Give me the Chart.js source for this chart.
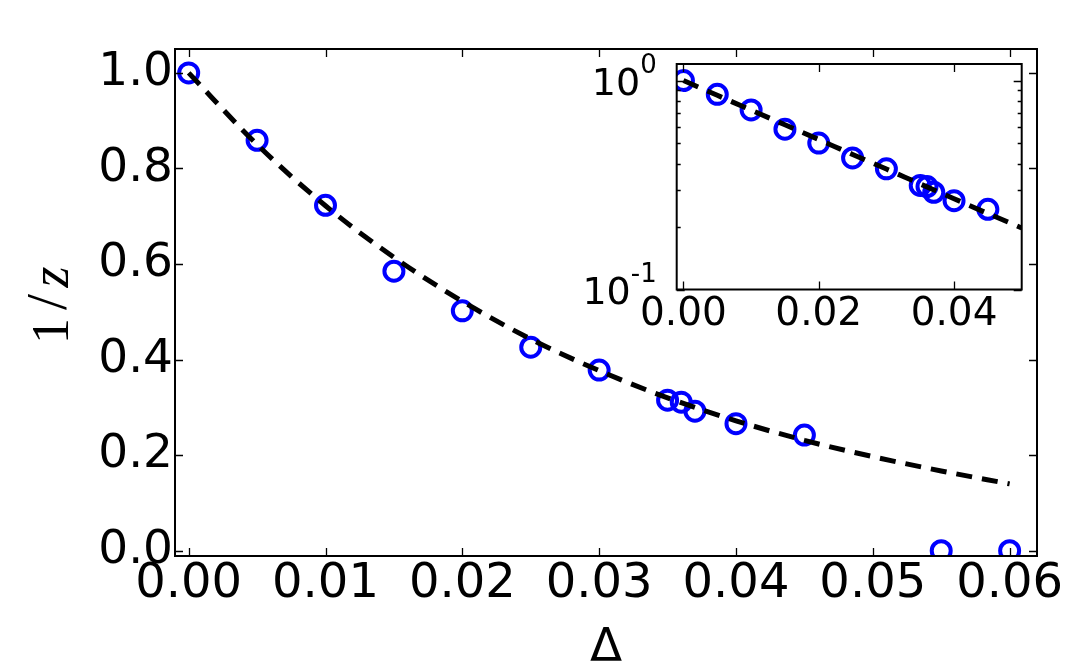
<!DOCTYPE html>
<html>
<head>
<meta charset="utf-8">
<script src="https://cdn.jsdelivr.net/npm/chart.js@4.4.1/dist/chart.umd.min.js"></script>
<style>
  body { margin: 0; background: #fff; }
  #wrap { position: relative; width: 1082px; height: 670px; }
  #main { position: absolute; left: 0; top: 0; }
  #inset { position: absolute; left: 560px; top: 20px; }
</style>
</head>
<body>
<div id="wrap">
  <canvas id="main" width="1082" height="670"></canvas>
  <canvas id="inset" width="510" height="340"></canvas>
</div>
<script>
// measured points
const deltaValues = [0, 0.005, 0.01, 0.015, 0.02, 0.025, 0.03, 0.035, 0.036, 0.037, 0.04, 0.045, 0.055, 0.06];
const invZValues = [1.0, 0.859, 0.723, 0.585, 0.502, 0.426, 0.378, 0.315, 0.311, 0.292, 0.266, 0.242, 0.0, 0.0];

// dashed fit curve
const fitDelta = [0, 0.005, 0.01, 0.015, 0.02, 0.025, 0.03, 0.035, 0.04, 0.045, 0.05, 0.055, 0.06];
const fitValues = [1.0, 0.850, 0.722, 0.614, 0.522, 0.443, 0.377, 0.320, 0.272, 0.231, 0.197, 0.167, 0.140];

// tick labels
const mainXTicks = [0, 0.01, 0.02, 0.03, 0.04, 0.05, 0.06];
const mainYTicks = [0, 0.2, 0.4, 0.6, 0.8, 1.0];
const insetXTicks = [0, 0.02, 0.04];
const insetYTicks = [0.1, 0.2, 0.3, 0.4, 0.5, 0.6, 0.7, 0.8, 0.9, 1.0];

const FONT = "'DejaVu Sans', sans-serif";
const SERIF = "'Liberation Serif', serif";
const BLUE = '#0000ff';

const toPoints = (xs, ys) => xs.map((x, i) => ({ x: x, y: ys[i] }));

function fixedTicks(values) {
    return scale => { scale.ticks = values.map(v => ({ value: v })); };
}

// matplotlib-like frame with inward ticks on all four sides
const frameTicks = {
    id: 'frameTicks',
    beforeDatasetsDraw(chart, args, opts) {
        if (opts.fill) {
            const a = chart.chartArea;
            chart.ctx.save();
            chart.ctx.fillStyle = '#fff';
            chart.ctx.fillRect(a.left, a.top, a.right - a.left, a.bottom - a.top);
            chart.ctx.restore();
        }
    },
    afterDatasetsDraw(chart, args, opts) {
        const { ctx, chartArea: a } = chart;
        const xs = chart.scales.x, ys = chart.scales.y;
        ctx.save();
        ctx.strokeStyle = '#000';
        ctx.lineWidth = 1.3;
        ctx.beginPath();
        xs.ticks.forEach(t => {
            const px = Math.round(xs.getPixelForValue(t.value)) + 0.5;
            ctx.moveTo(px, a.bottom); ctx.lineTo(px, a.bottom - 8);
            ctx.moveTo(px, a.top); ctx.lineTo(px, a.top + 8);
        });
        ys.ticks.forEach(t => {
            const py = Math.round(ys.getPixelForValue(t.value)) + 0.5;
            const major = !opts.log || Math.abs(Math.log10(t.value) - Math.round(Math.log10(t.value))) < 1e-9;
            const len = major ? 8 : 4;
            ctx.moveTo(a.left, py); ctx.lineTo(a.left + len, py);
            ctx.moveTo(a.right, py); ctx.lineTo(a.right - len, py);
        });
        ctx.stroke();
        ctx.lineWidth = 2;
        ctx.strokeRect(a.left, a.top, a.right - a.left, a.bottom - a.top);
        ctx.restore();
    }
};

// axis titles of the main plot: 1/z and Delta
const axisTitles = {
    id: 'axisTitles',
    afterDraw(chart) {
        const ctx = chart.ctx;
        ctx.save();
        ctx.fillStyle = '#000';
        ctx.textBaseline = 'alphabetic';
        ctx.font = "47px " + FONT;
        ctx.textAlign = 'center';
        ctx.fillText('\u0394', 606, 661);

        // rotated label, pieces spaced like mathtext
        ctx.translate(68, 304);
        ctx.rotate(-Math.PI / 2);
        ctx.textAlign = 'center';
        ctx.font = "52px " + SERIF;
        ctx.fillText('1', -27, 0);
        ctx.font = "58px " + SERIF;
        ctx.fillText('/', 2, -2);
        ctx.font = "italic 54px " + SERIF;
        ctx.fillText('z', 27, 0);
        ctx.restore();
    }
};

// 10^n labels for the log axis of the inset
const powerLabels = {
    id: 'powerLabels',
    afterDraw(chart) {
        const ctx = chart.ctx, ys = chart.scales.y, a = chart.chartArea;
        ctx.save();
        ctx.fillStyle = '#000';
        ctx.textBaseline = 'alphabetic';
        ctx.textAlign = 'right';
        insetYTicks.forEach(v => {
            const p = Math.log10(v);
            if (Math.abs(p - Math.round(p)) > 1e-9) return;
            const py = ys.getPixelForValue(v);
            const right = a.left - 20;
            const sup = String(Math.round(p));
            ctx.font = "26px " + FONT;
            const ws = ctx.measureText(sup).width;
            ctx.fillText(sup, right, py + 14 - 22);
            ctx.font = "38px " + FONT;
            ctx.fillText('10', right - ws, py + 14);
        });
        ctx.restore();
    }
};

function axisBase(min, max, ticks, fmt, size, pad, fit) {
    return {
        type: 'linear', min: min, max: max,
        grid: { display: false, drawTicks: false },
        border: { display: false },
        afterBuildTicks: fixedTicks(ticks),
        afterFit: fit,
        ticks: { color: '#000', font: { family: FONT, size: size }, padding: pad, maxRotation: 0, autoSkip: false, callback: fmt }
    };
}

function fitSet() {
    return { data: toPoints(fitDelta, fitValues), showLine: true, borderColor: '#000', borderWidth: 5,
             borderDash: [16, 10], pointRadius: 0, cubicInterpolationMode: 'monotone', order: 0, clip: 0 };
}

function pointSet(points) {
    return { data: points, borderColor: BLUE, backgroundColor: 'rgba(0,0,0,0)',
             borderWidth: 4, pointRadius: 9.5, pointHoverRadius: 9.5, order: 1, clip: 0 };
}

const mainChart = new Chart(document.getElementById('main'), {
    type: 'scatter',
    data: { datasets: [fitSet(), pointSet(toPoints(deltaValues, invZValues))] },
    options: {
        responsive: false, animation: false, devicePixelRatio: 1,
        layout: { padding: { top: 49, right: 45, left: 0, bottom: 0 } },
        plugins: { legend: { display: false }, tooltip: { enabled: false }, frameTicks: {} },
        scales: {
            x: axisBase(-0.001, 0.062, mainXTicks, v => v.toFixed(2), 48, 0,
                s => { s.height = 670 - 556; s.paddingLeft = 0; s.paddingRight = 0; }),
            y: axisBase(-0.011, 1.05, mainYTicks, v => v.toFixed(1), 47, 2,
                s => { s.width = 175; s.paddingTop = 0; s.paddingBottom = 0; })
        }
    },
    plugins: [frameTicks, axisTitles]
});

const insetY = axisBase(0.1, 1.2, insetYTicks, () => '', 38, 0,
    s => { s.width = 116.7; s.paddingTop = 0; s.paddingBottom = 0; });
insetY.type = 'logarithmic';
insetY.ticks.display = false;

const insetChart = new Chart(document.getElementById('inset'), {
    type: 'scatter',
    data: { datasets: [fitSet(), pointSet(toPoints(deltaValues, invZValues).filter(p => p.y > 0))] },
    options: {
        responsive: false, animation: false, devicePixelRatio: 1,
        layout: { padding: { top: 44, right: 48.3, left: 0, bottom: 0 } },
        plugins: { legend: { display: false }, tooltip: { enabled: false }, frameTicks: { fill: true, log: true } },
        scales: {
            x: axisBase(-0.001, 0.05, insetXTicks, v => v.toFixed(2), 39, 2,
                s => { s.height = 340 - 269.5; s.paddingLeft = 0; s.paddingRight = 0; }),
            y: insetY
        }
    },
    plugins: [frameTicks, powerLabels]
});
</script>
</body>
</html>
